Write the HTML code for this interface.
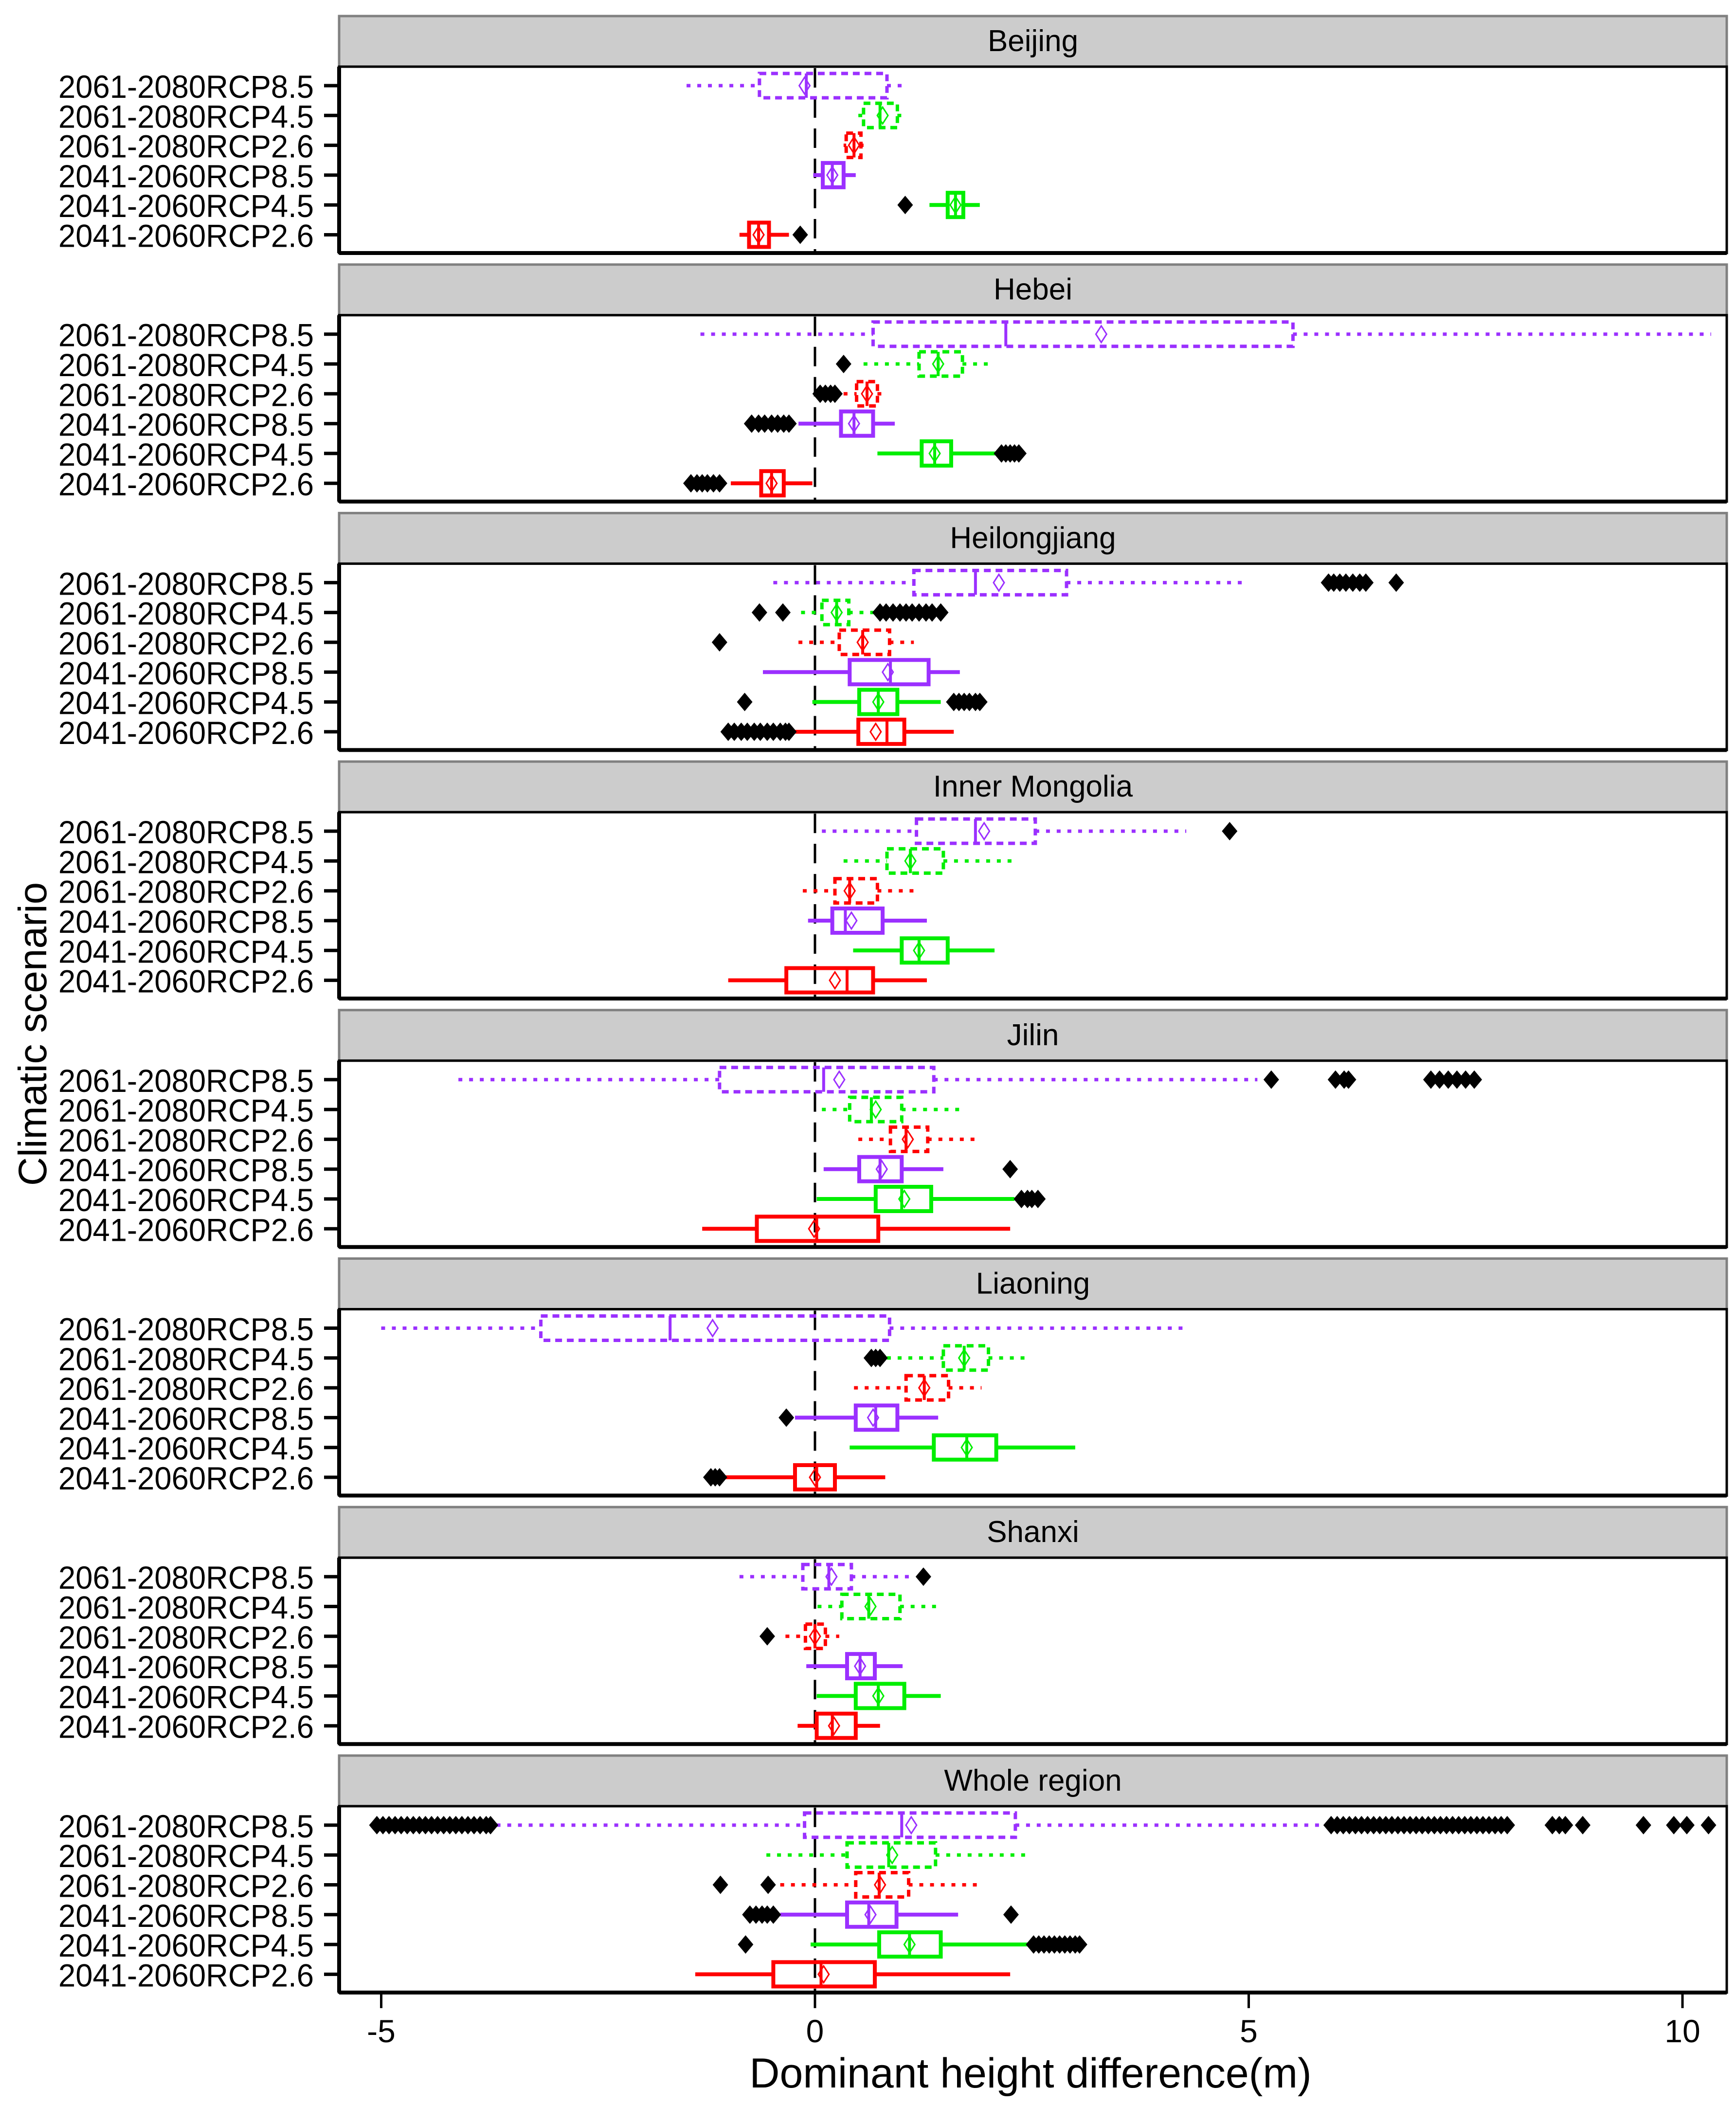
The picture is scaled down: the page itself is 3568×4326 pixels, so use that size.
<!DOCTYPE html>
<html><head><meta charset="utf-8">
<style>
html,body{margin:0;padding:0;background:#fff;}
svg{display:block;font-family:"Liberation Sans",sans-serif;}
</style></head>
<body>
<svg id="chart" width="3568" height="4326" viewBox="0 0 3568 4326" xmlns="http://www.w3.org/2000/svg">
<rect x="0" y="0" width="3568" height="4326" fill="#fff"/>
<text x="0" y="0" transform="translate(95,2125) rotate(-90)" text-anchor="middle" font-size="82" fill="#000">Climatic scenario</text>
<text x="2118" y="4290" text-anchor="middle" font-size="86" fill="#000">Dominant height difference(m)</text>
</svg>
<script>
const regions = ["Beijing","Hebei","Heilongjiang","Inner Mongolia","Jilin","Liaoning","Shanxi","Whole region"];
const scenarios = ["2061-2080RCP8.5","2061-2080RCP4.5","2061-2080RCP2.6","2041-2060RCP8.5","2041-2060RCP4.5","2041-2060RCP2.6"];
const scenarioColors = ["#9B30FF","#00EE00","#FF0000","#9B30FF","#00EE00","#FF0000"];
const xTicks = [-5,0,5,10];
// per region, per scenario: [whiskerLow, q1, median, q3, whiskerHigh]
const statsBeijing = [[-1.48,-0.64,-0.1,0.83,1.07],[0.5,0.56,0.75,0.95,1.07],[0.33,0.36,0.45,0.53,0.56],[-0.02,0.09,0.2,0.33,0.47],[1.32,1.53,1.62,1.71,1.9],[-0.87,-0.76,-0.65,-0.53,-0.3]];
const statsHebei = [[-1.32,0.67,2.2,5.51,10.33],[0.56,1.2,1.42,1.7,2.07],[0.33,0.48,0.6,0.72,0.83],[-0.19,0.3,0.45,0.67,0.92],[0.72,1.23,1.38,1.57,2.1],[-0.97,-0.62,-0.5,-0.36,-0.03]];
const statsHeilongjiang = [[-0.48,1.14,1.85,2.9,4.95],[-0.16,0.08,0.25,0.39,0.75],[-0.19,0.28,0.55,0.86,1.14],[-0.6,0.4,0.87,1.31,1.67],[-0.03,0.51,0.73,0.95,1.45],[-0.3,0.5,0.83,1.03,1.6]];
const statsInnerMongolia = [[0.08,1.17,1.85,2.54,4.28],[0.33,0.83,1.1,1.48,2.32],[-0.14,0.23,0.4,0.72,1.21],[-0.08,0.2,0.35,0.78,1.29],[0.44,1.0,1.2,1.53,2.07],[-1.0,-0.33,0.37,0.67,1.29]];
const statsJilin = [[-4.11,-1.1,0.1,1.37,5.1],[0.08,0.4,0.65,1.0,1.7],[0.5,0.87,1.05,1.3,1.88],[0.1,0.51,0.75,1.0,1.48],[0.02,0.7,1.0,1.34,2.3],[-1.3,-0.67,0.02,0.73,2.25]];
const statsLiaoning = [[-5.0,-3.16,-1.67,0.86,4.3],[0.83,1.48,1.72,2.0,2.46],[0.45,1.05,1.26,1.54,1.92],[-0.23,0.47,0.7,0.95,1.42],[0.4,1.37,1.75,2.09,3.0],[-1.04,-0.23,0.02,0.23,0.81]];
const statsShanxi = [[-0.87,-0.14,0.16,0.42,1.14],[0.03,0.31,0.62,0.98,1.45],[-0.34,-0.11,0.0,0.12,0.28],[-0.1,0.37,0.52,0.69,1.01],[0.02,0.47,0.73,1.03,1.45],[-0.2,0.02,0.2,0.47,0.75]];
const statsWhole = [[-3.67,-0.12,1.0,2.31,5.81],[-0.56,0.37,0.85,1.39,2.43],[-0.4,0.47,0.74,1.08,1.88],[-0.4,0.37,0.62,0.94,1.65],[-0.05,0.74,1.09,1.45,2.52],[-1.38,-0.48,0.07,0.69,2.25]];
const allStats = [statsBeijing,statsHebei,statsHeilongjiang,statsInnerMongolia,statsJilin,statsLiaoning,statsShanxi,statsWhole];
// means
const meansBeijing = [-0.12,0.78,0.45,0.2,1.62,-0.65];
const meansHebei = [3.3,1.42,0.6,0.45,1.38,-0.5];
const meansHeilongjiang = [2.12,0.25,0.55,0.84,0.73,0.7];
const meansInnerMongolia = [1.95,1.1,0.4,0.42,1.2,0.23];
const meansJilin = [0.28,0.7,1.07,0.77,1.03,-0.01];
const meansLiaoning = [-1.18,1.72,1.26,0.67,1.75,0.0];
const meansShanxi = [0.19,0.64,0.0,0.52,0.73,0.22];
const meansWhole = [1.11,0.89,0.75,0.64,1.09,0.1];
const allMeans = [meansBeijing,meansHebei,meansHeilongjiang,meansInnerMongolia,meansJilin,meansLiaoning,meansShanxi,meansWhole];
// outliers
const outBeijing = [[],[],[],[],[1.04],[-0.17]];
const outHebei = [[],[0.33],[0.06,0.12,0.18,0.23],[-0.73,-0.65,-0.58,-0.5,-0.43,-0.36,-0.3],[2.15,2.2,2.25,2.3,2.35],[-1.43,-1.36,-1.3,-1.24,-1.17,-1.1]];
const outHeilongjiang = [[5.92,5.98,6.05,6.12,6.2,6.28,6.35,6.7],[-0.64,-0.37,0.75,0.82,0.9,0.98,1.05,1.12,1.2,1.28,1.35,1.45],[-1.1],[],[-0.81,1.6,1.66,1.72,1.78,1.85,1.9],[-1.0,-0.93,-0.85,-0.78,-0.7,-0.63,-0.55,-0.48,-0.4,-0.34,-0.3]];
const outInnerMongolia = [[4.78],[],[],[],[],[]];
const outJilin = [[5.26,6.0,6.1,6.15,7.1,7.2,7.3,7.4,7.5,7.6],[],[],[2.25],[2.38,2.45,2.5,2.57],[]];
const outLiaoning = [[],[0.65,0.7,0.75],[],[-0.33],[],[-1.2,-1.15,-1.1]];
const outShanxi = [[1.25],[],[-0.55],[],[],[]];
const outWhole = [[-5.05,-4.98,-4.91,-4.84,-4.77,-4.7,-4.63,-4.56,-4.49,-4.42,-4.35,-4.28,-4.21,-4.14,-4.07,-4.0,-3.93,-3.86,-3.79,-3.74,5.95,6.02,6.09,6.16,6.23,6.3,6.37,6.44,6.51,6.58,6.65,6.72,6.79,6.86,6.93,7.0,7.07,7.14,7.21,7.28,7.35,7.42,7.49,7.56,7.63,7.7,7.77,7.84,7.91,7.98,8.5,8.58,8.65,8.85,9.55,9.9,10.05,10.3],[],[-1.09,-0.54],[-0.75,-0.68,-0.61,-0.55,-0.48,2.26],[-0.8,2.52,2.58,2.64,2.7,2.76,2.82,2.88,2.94,3.0,3.05],[]];
const allOut = [outBeijing,outHebei,outHeilongjiang,outInnerMongolia,outJilin,outLiaoning,outShanxi,outWhole];

const NS = "http://www.w3.org/2000/svg";
const svg = document.getElementById('chart');
const PL = 697, PR = 3549, X0 = 1675, XU = 178.3;
function xs(v){ return X0 + v*XU; }
function mk(tag, attrs, parent){
  const e = document.createElementNS(NS, tag);
  for (const k in attrs) e.setAttribute(k, attrs[k]);
  (parent||svg).appendChild(e);
  return e;
}
regions.forEach((reg, i) => {
  const st = 33 + i*510.7;
  const g = mk('g', {});
  
  
  const strip = mk('rect', {x:PL, y:st, width:PR-PL, height:104, fill:'#cccccc', stroke:'#808080', 'stroke-width':5}, g);
  
  
  const tt = mk('text', {x:(PL+PR)/2, y:st+72, 'text-anchor':'middle', 'font-size':62, fill:'#000'}, g);
  tt.textContent = reg;
  
  
  const top = st+104, bot = st+487;
  const frame = mk('rect', {x:PL, y:top, width:PR-PL, height:bot-top, fill:'#fff', stroke:'#000', 'stroke-width':5}, g);
  
  
  mk('line', {x1:PL, y1:top, x2:PL, y2:bot, stroke:'#000', 'stroke-width':8}, g);
  mk('line', {x1:PL, y1:bot, x2:PR, y2:bot, stroke:'#000', 'stroke-width':8}, g);
  const zl = mk('line', {x1:xs(0), y1:top+3, x2:xs(0), y2:bot-3, stroke:'#000', 'stroke-width':5, 'stroke-dasharray':'40 22'}, g);
  
  
  scenarios.forEach((sc, j) => {
    const y = st + 143 + j*61.3;
    const lab = mk('text', {x:645, y:y+25, 'text-anchor':'end', 'font-size':66, fill:'#000', textLength:525, lengthAdjust:'spacingAndGlyphs'}, g);
    lab.textContent = sc;
    
    
    mk('line', {x1:666, y1:y, x2:697, y2:y, stroke:'#000', 'stroke-width':7}, g);
    const s = allStats[i][j], col = scenarioColors[j];
    const dotted = j < 3;
    const bg = mk('g', {}, g);
    
    
    const wd = dotted ? {'stroke-dasharray':'8 14'} : {};
    const bd = dotted ? {'stroke-dasharray':'14 10'} : {};
    const sw = dotted ? 7 : 8;
    mk('line', Object.assign({x1:xs(s[0]), y1:y, x2:xs(s[1]), y2:y, stroke:col, 'stroke-width':sw}, wd), bg);
    mk('line', Object.assign({x1:xs(s[3]), y1:y, x2:xs(s[4]), y2:y, stroke:col, 'stroke-width':sw}, wd), bg);
    mk('rect', Object.assign({x:xs(s[1]), y:y-25, width:Math.max(2,xs(s[3])-xs(s[1])), height:50, fill:'none', stroke:col, 'stroke-width':sw}, bd), bg);
    mk('line', {x1:xs(s[2]), y1:y-25, x2:xs(s[2]), y2:y+25, stroke:col, 'stroke-width':6}, bg);
    const m = xs(allMeans[i][j]);
    const md = mk('path', {d:`M${m} ${y-17} L${m+11} ${y} L${m} ${y+17} L${m-11} ${y} Z`, fill:'none', stroke:col, 'stroke-width':3}, bg);
    
    
    allOut[i][j].forEach(v => {
      const ox = xs(v);
      const o = mk('path', {d:`M${ox} ${y-19} L${ox+16} ${y} L${ox} ${y+19} L${ox-16} ${y} Z`, fill:'#000'}, bg);
      
      
    });
  });
});
const lastBot = 33 + 7*510.7 + 487;
xTicks.forEach(t => {
  mk('line', {x1:xs(t), y1:lastBot, x2:xs(t), y2:lastBot+32, stroke:'#000', 'stroke-width':5});
  const tl = mk('text', {x:xs(t), y:lastBot+102, 'text-anchor':'middle', 'font-size':66, fill:'#000'});
  tl.textContent = String(t);
  
  
});
</script>
</body></html>
